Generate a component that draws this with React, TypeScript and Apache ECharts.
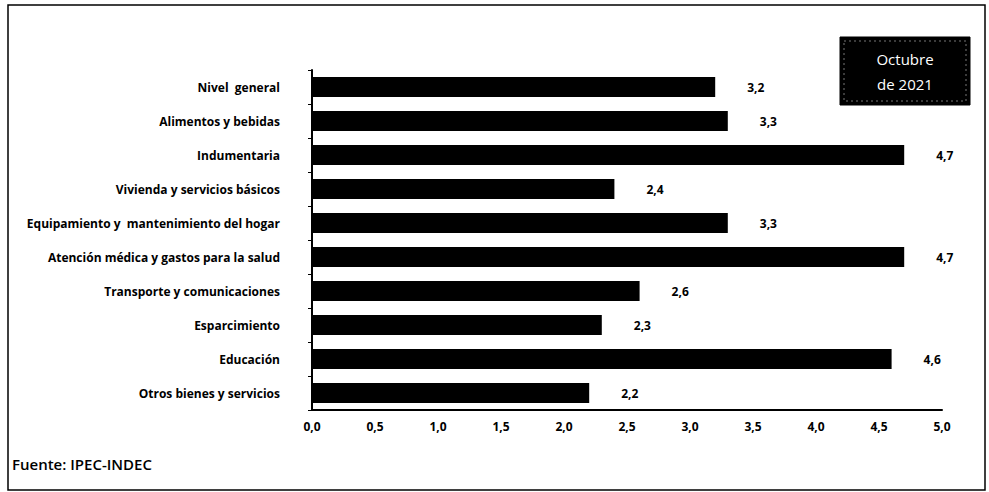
import React, { useEffect, useRef } from "react";
import * as echarts from "echarts";

const categories = [
  "Nivel  general",
  "Alimentos y bebidas",
  "Indumentaria",
  "Vivienda y servicios básicos",
  "Equipamiento y  mantenimiento del hogar",
  "Atención médica y gastos para la salud",
  "Transporte y comunicaciones",
  "Esparcimiento",
  "Educación",
  "Otros bienes y servicios",
];
const values = [3.2, 3.3, 4.7, 2.4, 3.3, 4.7, 2.6, 2.3, 4.6, 2.2];
const boxTitle = ["Octubre", "de 2021"];
const sourceText = "Fuente: IPEC-INDEC";

const fmt = (v: number) => v.toFixed(1).replace(".", ",");

export default function App() {
  const ref = useRef<HTMLDivElement>(null);
  useEffect(() => {
    if (!ref.current) return;
    const chart = echarts.init(ref.current, undefined, { renderer: "svg" });
    const font = "'Open Sans', sans-serif";
    chart.setOption({
      animation: false,
      backgroundColor: "#ffffff",
      grid: { left: 312, right: 47, top: 70, bottom: 82, containLabel: false },
      xAxis: {
        type: "value",
        min: 0,
        max: 5,
        interval: 0.5,
        axisLine: { show: true, lineStyle: { color: "#000", width: 2 } },
        axisTick: { show: false },
        splitLine: { show: false },
        axisLabel: {
          formatter: (v: number) => fmt(v),
          color: "#000",
          fontFamily: font,
          fontWeight: "bold",
          fontSize: 12,
          margin: 10,
        },
      },
      yAxis: {
        type: "category",
        data: categories,
        inverse: true,
        axisLine: { show: true, lineStyle: { color: "#000", width: 2 } },
        axisTick: { show: true, length: 4, lineStyle: { color: "#000" } },
        axisLabel: {
          color: "#000",
          fontFamily: font,
          fontWeight: "bold",
          fontSize: 12,
          margin: 32,
        },
      },
      series: [
        {
          type: "bar",
          data: values,
          barWidth: 20,
          itemStyle: { color: "#000" },
          label: {
            show: true,
            position: "right",
            distance: 32,
            formatter: (p: any) => fmt(p.value),
            color: "#000",
            fontFamily: font,
            fontWeight: "bold",
            fontSize: 12,
          },
        },
      ],
      graphic: [
        {
          type: "rect",
          shape: { x: 8, y: 5, width: 977, height: 485 },
          style: { fill: "none", stroke: "#000", lineWidth: 1.5 },
          silent: true,
        },
        {
          type: "rect",
          shape: { x: 840, y: 37, width: 130, height: 68 },
          style: { fill: "#000", stroke: "#000", lineWidth: 1 },
        },
        {
          type: "rect",
          shape: { x: 844, y: 41, width: 122, height: 60 },
          style: { fill: "none", stroke: "#777", lineWidth: 1, lineDash: [2, 3] },
        },
        {
          type: "text",
          x: 905,
          y: 59,
          style: {
            text: boxTitle[0],
            fill: "#fff",
            font: "15px 'Open Sans', sans-serif",
            align: "center",
            verticalAlign: "middle",
          },
        },
        {
          type: "text",
          x: 905,
          y: 84,
          style: {
            text: boxTitle[1],
            fill: "#fff",
            font: "15px 'Open Sans', sans-serif",
            align: "center",
            verticalAlign: "middle",
          },
        },
        {
          type: "text",
          x: 12,
          y: 464,
          style: {
            text: sourceText,
            fill: "#000",
            font: "600 15px 'Open Sans', sans-serif",
            align: "left",
            verticalAlign: "middle",
          },
        },
      ],
    });
    return () => chart.dispose();
  }, []);
  return (
    <div
      ref={ref}
      style={{ position: "absolute", left: 0, top: 0, width: 989, height: 492 }}
    />
  );
}
